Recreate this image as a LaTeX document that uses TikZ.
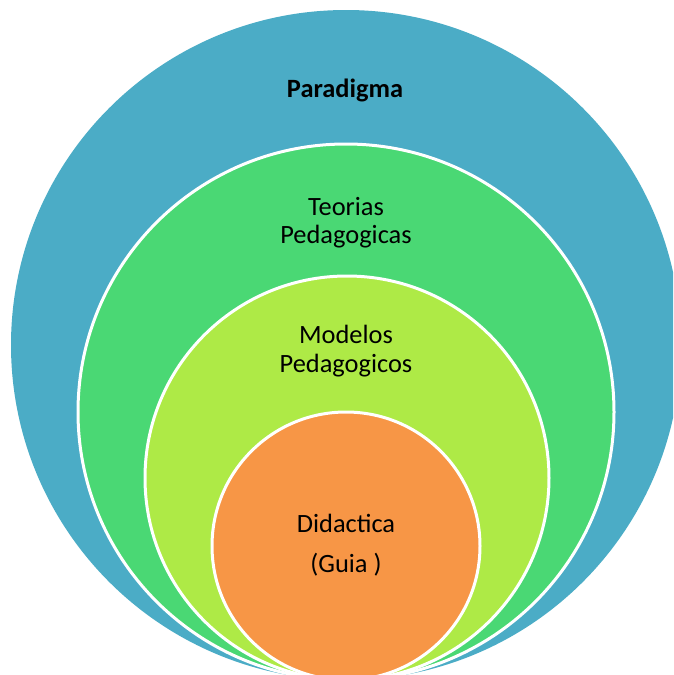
\documentclass[tikz,border=0pt]{standalone}
\usepackage{fontspec}
\setmainfont{Carlito}
\definecolor{cblue}{RGB}{75,172,198}
\definecolor{cgreen}{RGB}{74,216,116}
\definecolor{clime}{RGB}{174,234,70}
\definecolor{corange}{RGB}{247,150,70}
\begin{document}
\begin{tikzpicture}[x=1pt,y=1pt,
  ring/.style={draw=white,line width=3pt},
  lbl/.style={font=\fontsize{26.4}{28.5}\selectfont,text=black,align=center,anchor=base,inner sep=0pt}]
\useasboundingbox (0,0) rectangle (673,-675);
\clip (0,0) rectangle (673,-675);
\fill[cblue] (346,-345) circle[radius=335];
\filldraw[fill=cgreen,ring] (346,-412) circle[radius=268];
\filldraw[fill=clime,ring] (347,-478) circle[radius=202];
\filldraw[fill=corange,ring] (346,-546) circle[radius=134];
\node[lbl,font=\fontsize{26.4}{28.5}\selectfont\bfseries] (paradigma) at (345,-97) {Paradigma};
\node[lbl] (teorias) at (346,-215) {Teorias};
\node[lbl] (teorias2) at (346,-243) {Pedagogicas};
\node[lbl] (modelos) at (346,-343) {Modelos};
\node[lbl] (modelos2) at (346,-372) {Pedagogicos};
\node[lbl] (didactica) at (346,-532) {Didactica};
\node[lbl] (guia) at (346,-572) {(Guia )};
\end{tikzpicture}
\end{document}
